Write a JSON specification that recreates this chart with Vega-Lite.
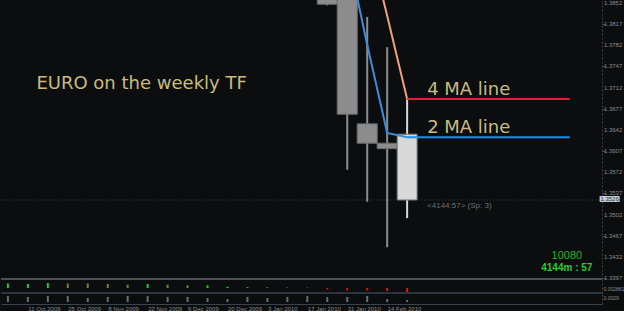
{
  "$schema": "https://vega.github.io/schema/vega-lite/v6.json",
  "background": "#0b0d0e",
  "padding": 0,
  "spacing": 0,
  "bounds": "flush",
  "config": {
    "view": {"stroke": null},
    "axis": {"labelFont": "Liberation Sans", "labelFontSize": 6, "labelColor": "#8a8e92", "grid": false, "labelOverlap": false},
    "text": {"font": "DejaVu Sans"}
  },
  "datasets": {
    "candles": [
      {"date": "2010-01-24", "open": 1.4135, "high": 1.4160, "low": 1.3848, "close": 1.3850, "kind": "closed"},
      {"date": "2010-01-31", "open": 1.3865, "high": 1.3880, "low": 1.3576, "close": 1.3668, "kind": "closed"},
      {"date": "2010-02-07", "open": 1.3652, "high": 1.3829, "low": 1.3523, "close": 1.3620, "kind": "closed"},
      {"date": "2010-02-14", "open": 1.3620, "high": 1.3779, "low": 1.3448, "close": 1.3611, "kind": "closed"},
      {"date": "2010-02-21", "open": 1.3635, "high": 1.3693, "low": 1.3496, "close": 1.3526, "kind": "current"}
    ],
    "ma": [
      {"date": "2010-01-24", "ma": "MA 2", "value": 1.4010},
      {"date": "2010-01-31", "ma": "MA 2", "value": 1.3938},
      {"date": "2010-02-07", "ma": "MA 2", "value": 1.3783},
      {"date": "2010-02-14", "ma": "MA 2", "value": 1.3637},
      {"date": "2010-02-21", "ma": "MA 2", "value": 1.3630},
      {"date": "2010-01-24", "ma": "MA 4", "value": 1.4200},
      {"date": "2010-01-31", "ma": "MA 4", "value": 1.4110},
      {"date": "2010-02-07", "ma": "MA 4", "value": 1.3965},
      {"date": "2010-02-14", "ma": "MA 4", "value": 1.3831},
      {"date": "2010-02-21", "ma": "MA 4", "value": 1.3693}
    ],
    "levels": [
      {"start": "2010-02-21", "end": "2010-04-19", "ma": "4 MA", "value": 1.3693, "label": "4 MA line"},
      {"start": "2010-02-21", "end": "2010-04-19", "ma": "2 MA", "value": 1.3630, "label": "2 MA line"}
    ],
    "pricelabels": [
      {"price": 1.3852}, {"price": 1.3817}, {"price": 1.3782}, {"price": 1.3747}, {"price": 1.3712},
      {"price": 1.3677}, {"price": 1.3642}, {"price": 1.3607}, {"price": 1.3572}, {"price": 1.3537},
      {"price": 1.3502}, {"price": 1.3467}, {"price": 1.3432}, {"price": 1.3397}
    ],
    "indicator": [
      {"date": "2009-10-04", "value": 4.5, "trend": "up"},
      {"date": "2009-10-11", "value": 4.0, "trend": "up"},
      {"date": "2009-10-18", "value": 5.0, "trend": "up"},
      {"date": "2009-10-25", "value": 4.5, "trend": "down"},
      {"date": "2009-11-01", "value": 4.5, "trend": "down"},
      {"date": "2009-11-08", "value": 4.0, "trend": "down"},
      {"date": "2009-11-15", "value": 3.3, "trend": "down"},
      {"date": "2009-11-22", "value": 4.0, "trend": "up"},
      {"date": "2009-11-29", "value": 3.3, "trend": "down"},
      {"date": "2009-12-06", "value": 2.7, "trend": "down"},
      {"date": "2009-12-13", "value": 2.7, "trend": "up"},
      {"date": "2009-12-20", "value": 1.3, "trend": "up"},
      {"date": "2009-12-27", "value": 1.0, "trend": "down"},
      {"date": "2010-01-03", "value": 0.7, "trend": "down"},
      {"date": "2010-01-10", "value": 0.5, "trend": "down"},
      {"date": "2010-01-17", "value": 0.4, "trend": "down"},
      {"date": "2010-01-24", "value": -1.5, "trend": "neg"},
      {"date": "2010-01-31", "value": -2.5, "trend": "neg"},
      {"date": "2010-02-07", "value": -2.5, "trend": "neg"},
      {"date": "2010-02-14", "value": -3.0, "trend": "neg"},
      {"date": "2010-02-21", "value": -4.0, "trend": "neg"}
    ],
    "volume": [
      {"date": "2009-10-04", "value": 6},
      {"date": "2009-10-11", "value": 5},
      {"date": "2009-10-18", "value": 6},
      {"date": "2009-10-25", "value": 6},
      {"date": "2009-11-01", "value": 4},
      {"date": "2009-11-08", "value": 5},
      {"date": "2009-11-15", "value": 6},
      {"date": "2009-11-22", "value": 6},
      {"date": "2009-11-29", "value": 5},
      {"date": "2009-12-06", "value": 5},
      {"date": "2009-12-13", "value": 4},
      {"date": "2009-12-20", "value": 3},
      {"date": "2009-12-27", "value": 5},
      {"date": "2010-01-03", "value": 4},
      {"date": "2010-01-10", "value": 5},
      {"date": "2010-01-17", "value": 6},
      {"date": "2010-01-24", "value": 5},
      {"date": "2010-01-31", "value": 5},
      {"date": "2010-02-07", "value": 6},
      {"date": "2010-02-14", "value": 3},
      {"date": "2010-02-21", "value": 2}
    ]
  },
  "resolve": {"scale": {"x": "shared", "color": "independent", "y": "independent"}},
  "vconcat": [
    {
      "width": 601,
      "height": 279,
      "resolve": {"scale": {"stroke": "independent", "color": "independent"}},
      "encoding": {
        "x": {"type": "temporal", "scale": {"type": "utc", "domain": [{"year": 2009, "month": 10, "date": 3, "hours": 8, "utc": true}, {"year": 2010, "month": 4, "date": 28, "hours": 14, "utc": true}]}, "axis": null}
      },
      "layer": [
        {
          "data": {"values": [{"price": 1.3526}]},
          "mark": {"type": "rule", "color": "#35404a", "strokeDash": [1, 2], "strokeWidth": 1},
          "encoding": {
            "x": null,
            "y": {"field": "price", "type": "quantitative", "scale": {"domain": [1.33953, 1.3857], "nice": false, "zero": false},
              "axis": {"orient": "right", "values": [1.3852, 1.3817, 1.3782, 1.3747, 1.3712, 1.3677, 1.3642, 1.3607, 1.3572, 1.3537, 1.3502, 1.3467, 1.3432, 1.3397], "labels": false, "tickSize": 3, "tickColor": "#50565c", "domainColor": "#3a424a", "domainDash": [2, 2], "title": null}}
          }
        },
        {
          "data": {"name": "pricelabels"},
          "mark": {"type": "text", "align": "left", "baseline": "middle", "fontSize": 6, "font": "Liberation Sans", "color": "#8a8e92"},
          "encoding": {
            "x": {"datum": {"year": 2010, "month": 5, "date": 1, "utc": true}, "type": "temporal"},
            "y": {"field": "price", "type": "quantitative"},
            "text": {"field": "price", "type": "quantitative", "format": ".4f"}
          }
        },
        {
          "data": {"values": [{"edge": 1.33953}]},
          "mark": {"type": "rule", "color": "#4c5156", "strokeWidth": 2},
          "encoding": {"x": null, "y": {"field": "edge", "type": "quantitative"}}
        },
        {
          "data": {"name": "candles"},
          "mark": {"type": "rule", "strokeWidth": 2, "clip": true},
          "encoding": {
            "x": {"field": "date", "type": "temporal"},
            "y": {"field": "low", "type": "quantitative"},
            "y2": {"field": "high"},
            "color": {"field": "kind", "type": "nominal", "scale": {"domain": ["closed", "current"], "range": ["#8c8c8c", "#d8d8d8"]}, "legend": null}
          }
        },
        {
          "data": {"name": "candles"},
          "mark": {"type": "bar", "size": 20, "clip": true, "stroke": "#6e6e6e", "strokeWidth": 1},
          "encoding": {
            "x": {"field": "date", "type": "temporal"},
            "y": {"field": "open", "type": "quantitative"},
            "y2": {"field": "close"},
            "color": {"field": "kind", "type": "nominal", "scale": {"domain": ["closed", "current"], "range": ["#8c8c8c", "#d8d8d8"]}, "legend": null}
          }
        },
        {
          "data": {"name": "ma"},
          "mark": {"type": "line", "strokeWidth": 2, "clip": true},
          "encoding": {
            "x": {"field": "date", "type": "temporal"},
            "y": {"field": "value", "type": "quantitative"},
            "detail": {"field": "ma"},
            "stroke": {"field": "ma", "type": "nominal", "scale": {"domain": ["MA 2", "MA 4"], "range": ["#3a8ed8", "#f0a07a"]}, "legend": null}
          }
        },
        {
          "data": {"name": "levels"},
          "mark": {"type": "rule", "strokeWidth": 2},
          "encoding": {
            "x": {"field": "start", "type": "temporal"},
            "x2": {"field": "end"},
            "y": {"field": "value", "type": "quantitative"},
            "stroke": {"field": "ma", "type": "nominal", "scale": {"domain": ["2 MA", "4 MA"], "range": ["#1e8cf0", "#e0203c"]}, "legend": null}
          }
        },
        {
          "data": {"name": "levels"},
          "mark": {"type": "text", "align": "left", "baseline": "alphabetic", "dx": 20, "dy": -4, "fontSize": 18, "color": "#c9bc7c"},
          "encoding": {
            "x": {"field": "start", "type": "temporal"},
            "y": {"field": "value", "type": "quantitative"},
            "text": {"field": "label"}
          }
        },
        {
          "data": {"values": [{"date": "2009-10-14", "price": 1.3710, "label": "EURO on the weekly TF"}]},
          "mark": {"type": "text", "align": "left", "baseline": "alphabetic", "fontSize": 18, "color": "#c9bc7c"},
          "encoding": {
            "x": {"field": "date", "type": "temporal"},
            "y": {"field": "price", "type": "quantitative"},
            "text": {"field": "label"}
          }
        },
        {
          "data": {"values": [{"date": "2010-02-28", "price": 1.3526, "label": "<4144:57> (Sp: 3)"}]},
          "mark": {"type": "text", "align": "left", "baseline": "top", "dy": 2, "fontSize": 8, "font": "Liberation Sans", "color": "#6e7276"},
          "encoding": {
            "x": {"field": "date", "type": "temporal"},
            "y": {"field": "price", "type": "quantitative"},
            "text": {"field": "label"}
          }
        },
        {
          "data": {"values": [{"date": "2010-04-18", "price": 1.34334, "label": "10080"}]},
          "mark": {"type": "text", "align": "center", "baseline": "middle", "fontSize": 11, "font": "Liberation Sans", "color": "#22b822"},
          "encoding": {
            "x": {"field": "date", "type": "temporal"},
            "y": {"field": "price", "type": "quantitative"},
            "text": {"field": "label"}
          }
        },
        {
          "data": {"values": [{"date": "2010-04-18", "price": 1.34136, "label": "4144m : 57"}]},
          "mark": {"type": "text", "align": "center", "baseline": "middle", "fontSize": 10, "fontWeight": "bold", "font": "Liberation Sans", "color": "#2ccc2c"},
          "encoding": {
            "x": {"field": "date", "type": "temporal"},
            "y": {"field": "price", "type": "quantitative"},
            "text": {"field": "label"}
          }
        },
        {
          "data": {"values": [{"date": "2010-05-03", "top": 1.35327, "bottom": 1.35228}]},
          "mark": {"type": "bar", "size": 20, "color": "#c4ccd4"},
          "encoding": {
            "x": {"field": "date", "type": "temporal"},
            "y": {"field": "top", "type": "quantitative"},
            "y2": {"field": "bottom"}
          }
        },
        {
          "data": {"values": [{"date": "2010-05-03", "price": 1.35277, "label": "1.3526"}]},
          "mark": {"type": "text", "align": "center", "baseline": "middle", "fontSize": 6, "font": "Liberation Sans", "color": "#303438"},
          "encoding": {
            "x": {"field": "date", "type": "temporal"},
            "y": {"field": "price", "type": "quantitative"},
            "text": {"field": "label"}
          }
        }
      ]
    },
    {
      "width": 601,
      "height": 14,
      "encoding": {
        "x": {"type": "temporal", "scale": {"type": "utc", "domain": [{"year": 2009, "month": 10, "date": 3, "hours": 8, "utc": true}, {"year": 2010, "month": 4, "date": 28, "hours": 14, "utc": true}]}, "axis": null}
      },
      "layer": [
        {
          "data": {"name": "indicator"},
          "mark": {"type": "bar", "size": 2},
          "encoding": {
            "x": {"field": "date", "type": "temporal"},
            "y": {"field": "value", "type": "quantitative", "scale": {"domain": [-5, 9], "nice": false},
              "axis": {"orient": "right", "values": [0], "labelExpr": "'0.002861'", "ticks": false, "labelPadding": 1, "labelFontSize": 5, "domainColor": "#3a424a", "domainDash": [2, 2], "title": null}},
            "y2": {"datum": 0},
            "color": {"field": "trend", "type": "nominal", "scale": {"domain": ["up", "down", "neg"], "range": ["#22cc22", "#7e7e40", "#d81818"]}, "legend": null}
          }
        },
        {
          "data": {"values": [{"edge": -5}]},
          "mark": {"type": "rule", "color": "#2a3440", "strokeWidth": 2},
          "encoding": {"x": null, "y": {"field": "edge", "type": "quantitative"}}
        }
      ]
    },
    {
      "width": 601,
      "height": 11,
      "data": {"name": "volume"},
      "mark": {"type": "bar", "size": 2, "color": "#6c6c6c"},
      "encoding": {
        "x": {"field": "date", "type": "temporal", "scale": {"type": "utc", "domain": [{"year": 2009, "month": 10, "date": 3, "hours": 8, "utc": true}, {"year": 2010, "month": 4, "date": 28, "hours": 14, "utc": true}]},
          "axis": {"orient": "bottom", "values": [{"year": 2009, "month": 10, "date": 11, "utc": true}, {"year": 2009, "month": 10, "date": 25, "utc": true}, {"year": 2009, "month": 11, "date": 8, "utc": true}, {"year": 2009, "month": 11, "date": 22, "utc": true}, {"year": 2009, "month": 12, "date": 6, "utc": true}, {"year": 2009, "month": 12, "date": 20, "utc": true}, {"year": 2010, "month": 1, "date": 3, "utc": true}, {"year": 2010, "month": 1, "date": 17, "utc": true}, {"year": 2010, "month": 1, "date": 31, "utc": true}, {"year": 2010, "month": 2, "date": 14, "utc": true}],
            "format": "%-d %b %Y", "labelAlign": "left", "tickSize": 0, "labelPadding": 1, "domainColor": "#3a424a", "title": null}},
        "y": {"field": "value", "type": "quantitative", "scale": {"domain": [-2, 9], "nice": false},
          "axis": {"orient": "right", "values": [5], "labelExpr": "'0.0029'", "ticks": false, "labelPadding": 1, "labelFontSize": 5, "domainColor": "#3a424a", "domainDash": [2, 2], "title": null}},
        "y2": {"datum": 0}
      }
    }
  ]
}
